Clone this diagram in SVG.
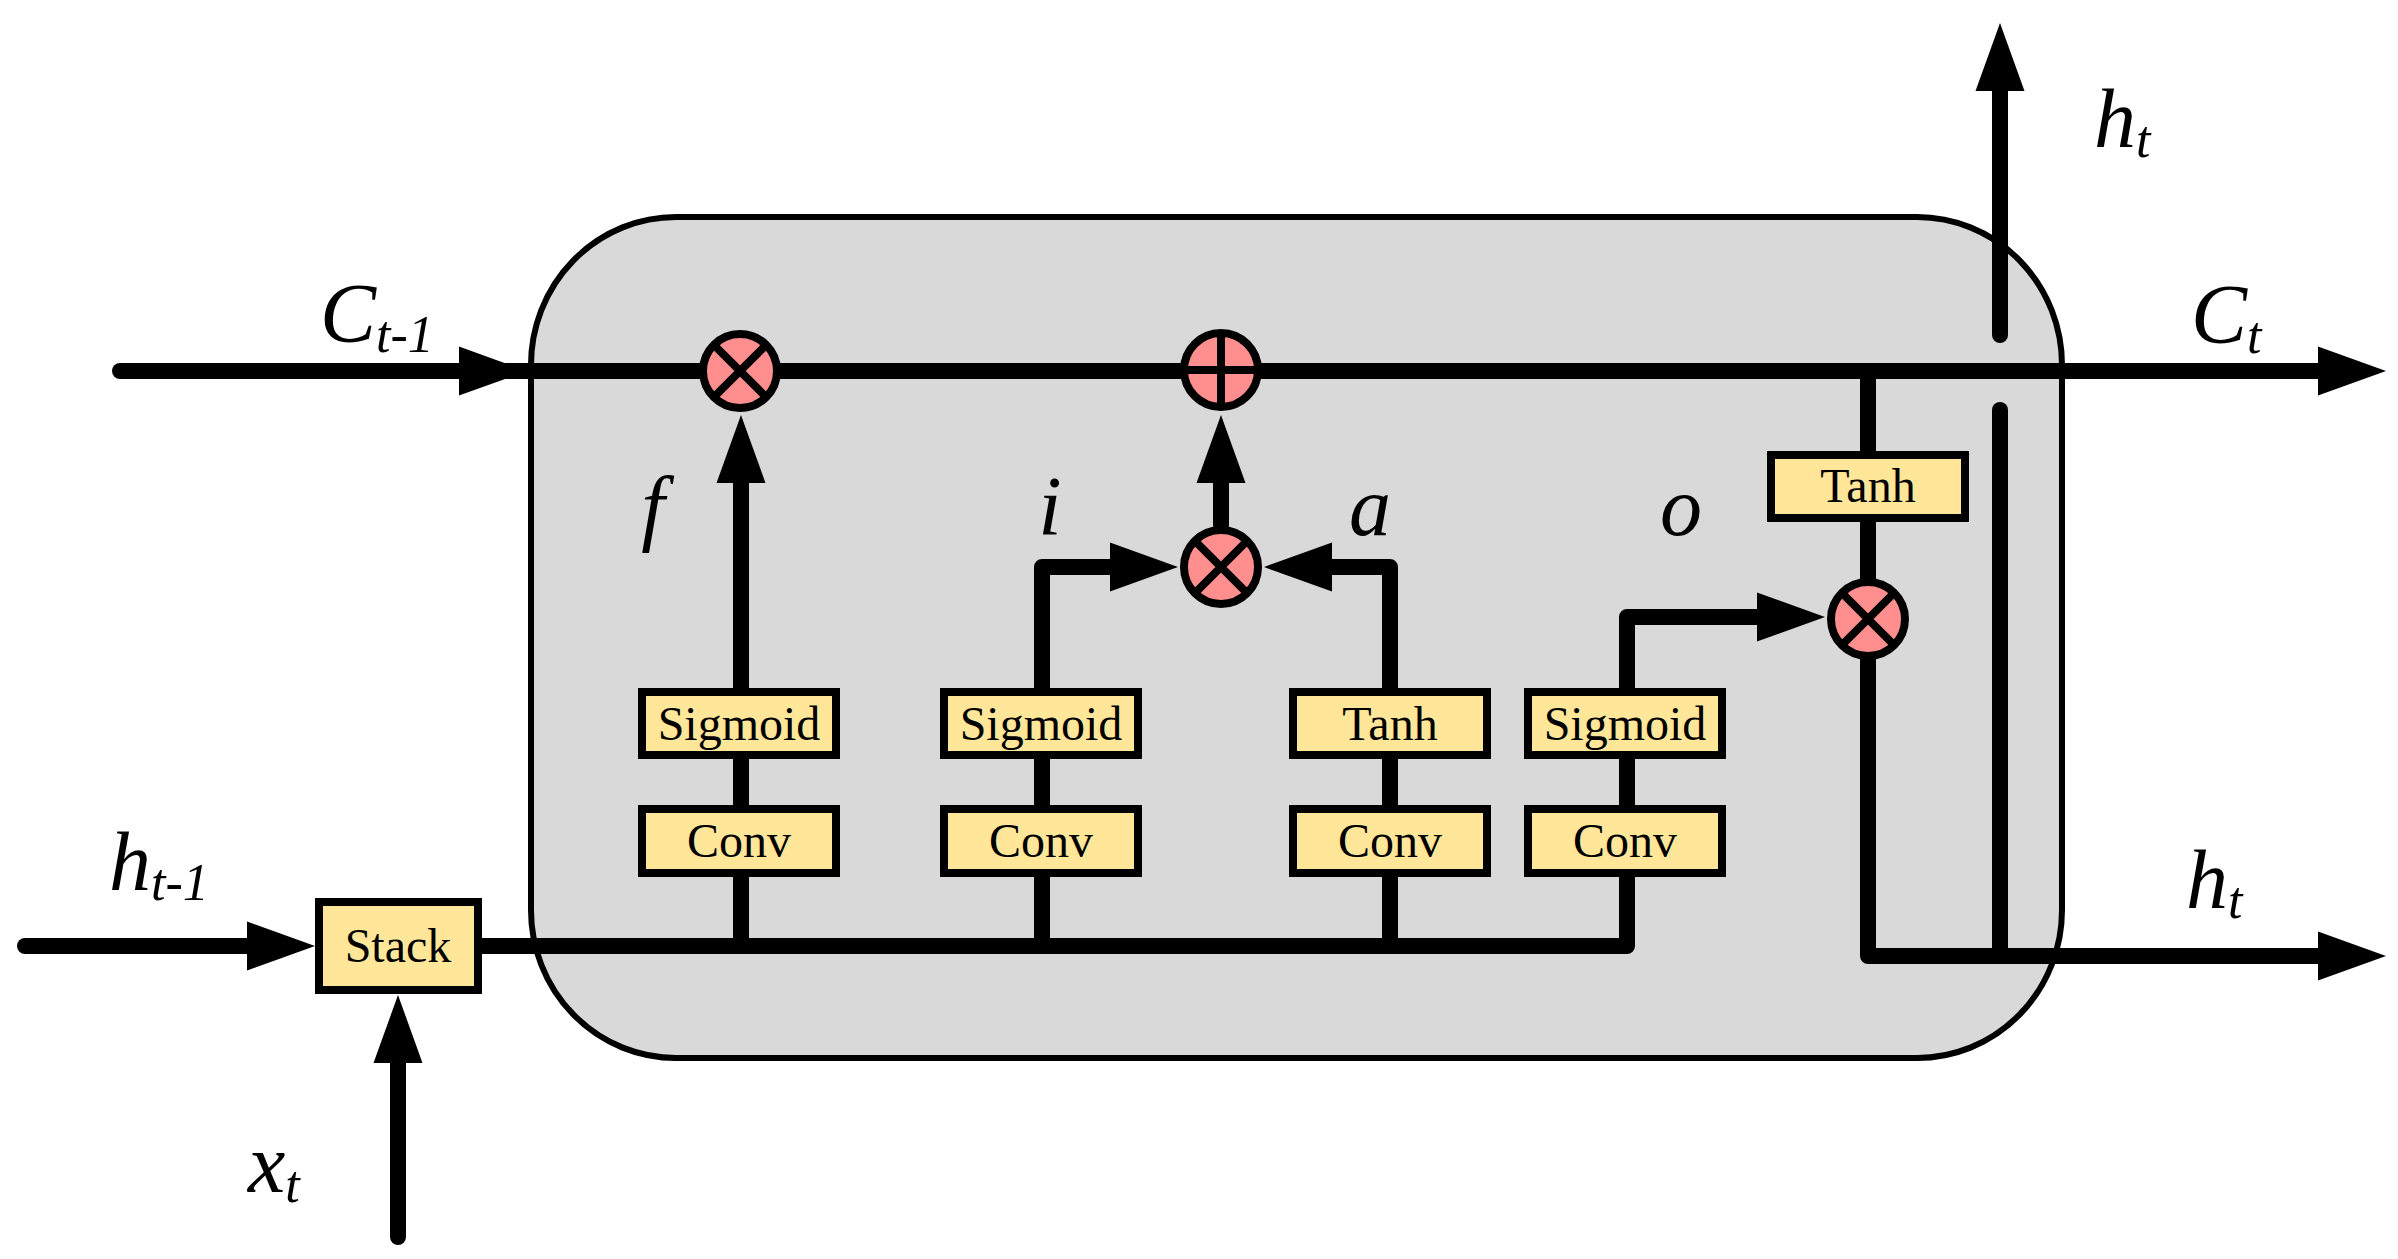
<svg xmlns="http://www.w3.org/2000/svg" width="2398" height="1259" viewBox="0 0 2398 1259">
<style>
.ln{fill:none;stroke:#000;stroke-width:16;stroke-linecap:round;stroke-linejoin:round}
.box{fill:#ffe699;stroke:#000;stroke-width:8}
.op{fill:#ff8f8f;stroke:#000;stroke-width:8}
.opl{stroke:#000;stroke-width:8}
.bt{font-family:"Liberation Serif",serif;font-size:48px;text-anchor:middle;fill:#000}
.lb{font-family:"Liberation Serif",serif;font-style:italic;font-size:84px;fill:#000}
.sb{font-size:52px}
</style>
<defs>
<marker id="ah" markerUnits="userSpaceOnUse" markerWidth="70" markerHeight="50" viewBox="0 -25 70 50" refX="1" refY="0" orient="auto" overflow="visible">
<path d="M0,-24.5 L68,0 L0,24.5 Z" fill="#000"/>
</marker>
</defs>
<rect id="cell" x="531" y="217" width="1531" height="841" rx="145" ry="148" fill="#d9d9d9" stroke="#000" stroke-width="6"/>
<g id="connectors">
<path class="ln" d="M120,371 H460" marker-end="url(#ah)"/>
<path class="ln" d="M460,371 H2319" marker-end="url(#ah)"/>
<path class="ln" d="M25,946 H248" marker-end="url(#ah)"/>
<path class="ln" d="M398,1237 V1062" marker-end="url(#ah)"/>
<path class="ln" d="M478,946 H1627 V617 H1758" marker-end="url(#ah)"/>
<path class="ln" d="M741,946 V482" marker-end="url(#ah)"/>
<path class="ln" d="M1042,946 V567 H1111" marker-end="url(#ah)"/>
<path class="ln" d="M1390,946 V567 H1331" marker-end="url(#ah)"/>
<path class="ln" d="M1221,525 V482" marker-end="url(#ah)"/>
<path class="ln" d="M1868,371 V956 H2319" marker-end="url(#ah)"/>
<path class="ln" d="M2000,410 V956"/>
<path class="ln" d="M2000,335 V90" marker-end="url(#ah)"/>
</g>
<g id="stack"><rect class="box" x="319" y="902" width="159" height="88"/><text class="bt" x="398" y="962">Stack</text></g>
<g id="sig-f"><rect class="box" x="642" y="692" width="194" height="63"/><text class="bt" x="739" y="740">Sigmoid</text></g>
<g id="conv-f"><rect class="box" x="642" y="809" width="194" height="64"/><text class="bt" x="739" y="857">Conv</text></g>
<g id="sig-i"><rect class="box" x="944" y="692" width="194" height="63"/><text class="bt" x="1041" y="740">Sigmoid</text></g>
<g id="conv-i"><rect class="box" x="944" y="809" width="194" height="64"/><text class="bt" x="1041" y="857">Conv</text></g>
<g id="tanh-a"><rect class="box" x="1293" y="692" width="194" height="63"/><text class="bt" x="1390" y="740">Tanh</text></g>
<g id="conv-a"><rect class="box" x="1293" y="809" width="194" height="64"/><text class="bt" x="1390" y="857">Conv</text></g>
<g id="sig-o"><rect class="box" x="1528" y="692" width="194" height="63"/><text class="bt" x="1625" y="740">Sigmoid</text></g>
<g id="conv-o"><rect class="box" x="1528" y="809" width="194" height="64"/><text class="bt" x="1625" y="857">Conv</text></g>
<g id="tanh-c"><rect class="box" x="1771" y="455" width="194" height="63"/><text class="bt" x="1868" y="502">Tanh</text></g>
<g id="mul-f"><circle class="op" cx="740" cy="371" r="37"/><path class="opl" d="M714,345 L766,397 M766,345 L714,397"/></g>
<g id="add-c"><circle class="op" cx="1221" cy="370" r="37"/><path class="opl" d="M1221,333 V407 M1184,370 H1258"/></g>
<g id="mul-ia"><circle class="op" cx="1221" cy="567" r="37"/><path class="opl" d="M1195,541 L1247,593 M1247,541 L1195,593"/></g>
<g id="mul-o"><circle class="op" cx="1868" cy="619" r="37"/><path class="opl" d="M1842,593 L1894,645 M1894,593 L1842,645"/></g>
<g id="labels">
<text class="lb" x="320" y="342">C<tspan class="sb" dy="10">t-1</tspan></text>
<text class="lb" x="2191" y="343">C<tspan class="sb" dy="10">t</tspan></text>
<text class="lb" x="2094" y="147">h<tspan class="sb" dy="10">t</tspan></text>
<text class="lb" x="2186" y="908">h<tspan class="sb" dy="10">t</tspan></text>
<text class="lb" x="109" y="890">h<tspan class="sb" dy="10">t-1</tspan></text>
<text class="lb" x="248" y="1192">x<tspan class="sb" dy="10">t</tspan></text>
<text class="lb" x="653" y="535" text-anchor="middle">f</text>
<text class="lb" x="1050" y="535" text-anchor="middle">i</text>
<text class="lb" x="1370" y="535" text-anchor="middle">a</text>
<text class="lb" x="1681" y="535" text-anchor="middle">o</text>
</g>
</svg>
